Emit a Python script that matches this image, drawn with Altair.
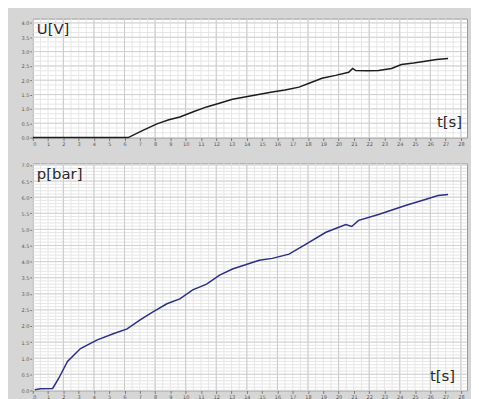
import altair as alt
import pandas as pd
import numpy as np

# ---- data ----
t_u = [0.0, 6.24, 7.2, 8.12, 8.9, 9.62, 10.5, 11.37, 12.2, 13.06, 14.4, 15.66, 16.5, 17.41,
       18.2, 18.91, 19.8, 20.66, 20.92, 21.12, 21.9, 22.61, 23.46, 24.11, 24.9, 25.67, 26.4, 27.16]
u_v = [0.0, 0.0, 0.25, 0.48, 0.62, 0.72, 0.9, 1.07, 1.2, 1.34, 1.47, 1.59, 1.66, 1.76,
       1.92, 2.07, 2.17, 2.28, 2.41, 2.34, 2.33, 2.34, 2.41, 2.55, 2.6, 2.66, 2.72, 2.76]

t_p = [0.13, 0.5, 1.3, 1.69, 2.27, 3.12, 4.22, 5.26, 6.17, 7.02, 7.86, 8.77, 9.62, 10.46,
       11.37, 12.22, 13.06, 14.81, 15.66, 16.76, 17.87, 19.17, 20.47, 20.86, 21.31, 22.61,
       24.37, 25.67, 26.51, 27.16]
p_bar = [0.02, 0.05, 0.06, 0.37, 0.9, 1.3, 1.57, 1.76, 1.91, 2.19, 2.44, 2.69, 2.84, 3.12,
         3.3, 3.58, 3.77, 4.04, 4.1, 4.23, 4.54, 4.91, 5.15, 5.09, 5.28, 5.46, 5.74, 5.93,
         6.05, 6.08]

x_ticks = list(range(0, 29))
u_ticks = [0.0, 0.5, 1.0, 1.5, 2.0, 2.5, 3.0, 3.5, 4.0]
p_ticks = [0.0, 0.5, 1.0, 1.5, 2.0, 2.5, 3.0, 3.5, 4.0, 4.5, 5.0, 5.5, 6.0, 6.5, 7.0]

X_DOM = [0, 28.4]
U_DOM = [0, 4.15]
P_DOM = [0, 7.05]

W = 438
H_TOP = 120
H_BOT = 229

x_minor = [float(v) for v in np.arange(0, 28.41, 0.5)]
x_major = [float(v) for v in np.arange(0, 28.41, 2.0)]
u_minor = [float(v) for v in np.arange(0, 4.15, 0.5 / 3)]
p_minor = [float(v) for v in np.arange(0, 7.05, 0.1)]


def x_enc(field):
    return alt.X(field, scale=alt.Scale(domain=X_DOM, nice=False, zero=False),
                 axis=alt.Axis(values=x_ticks, title=None, grid=False, domain=False,
                               labelFontSize=5, tickSize=3, labelPadding=1,
                               minExtent=10, maxExtent=10, format="d"))


def y_enc(field, dom, ticks):
    return alt.Y(field, scale=alt.Scale(domain=dom, nice=False),
                 axis=alt.Axis(values=ticks, title=None, grid=False, domain=False,
                               labelFontSize=5, tickSize=3, labelPadding=1,
                               minExtent=20, maxExtent=20, format=".1f"))


def vrules(vals, color):
    return alt.Chart(pd.DataFrame({"v": vals})).mark_rule(color=color, strokeWidth=1).encode(
        x=x_enc("v:Q")
    )


def hrules(vals, color, dom, ticks):
    return alt.Chart(pd.DataFrame({"v": vals})).mark_rule(color=color, strokeWidth=1).encode(
        y=y_enc("v:Q", dom, ticks)
    )


def label(txt, x, y, align, baseline, size):
    return alt.Chart(pd.DataFrame({"label": [txt]})).mark_text(
        align=align, baseline=baseline, fontSize=size, font="DejaVu Sans", color="#2a2a2a"
    ).encode(x=alt.value(x), y=alt.value(y), text="label:N")


def panel(t, vals, ydom, yticks, hminor, height, color, ytxt, tx, ty):
    df = pd.DataFrame({"t": t, "v": vals})
    line = alt.Chart(df).mark_line(color=color, strokeWidth=1.5).encode(
        x=x_enc("t:Q"),
        y=y_enc("v:Q", ydom, yticks),
        order="t:Q",
    )
    layers = [
        vrules(x_minor, "#e6e6e6"),
        hrules(hminor, "#e6e6e6", ydom, yticks),
        vrules(x_major, "#c9c9c9"),
        hrules(yticks, "#d0d0d0", ydom, yticks),
        line,
        label(ytxt, 4, 4, "left", "top", 15),
        label("t[s]", tx, ty, "right", "bottom", 15),
    ]
    return alt.layer(*layers).properties(width=W, height=height)


top = panel(t_u, u_v, U_DOM, u_ticks, u_minor, H_TOP, "#1c1c1c", "U[V]", 433, 112)
bot = panel(t_p, p_bar, P_DOM, p_ticks, p_minor, H_BOT, "#2b3080", "p[bar]", 426, 223)

chart = alt.vconcat(top, bot, spacing=14).properties(
    background="#d6d6d6",
    padding={"left": 4, "top": 8, "right": 3, "bottom": 0},
).configure_view(fill="white", stroke="#9a9a9a").configure_axis(
    labelColor="#555555", tickColor="#777777", labelFont="DejaVu Sans"
)

chart.save("out.html", embed_options={"renderer": "svg", "actions": False})
